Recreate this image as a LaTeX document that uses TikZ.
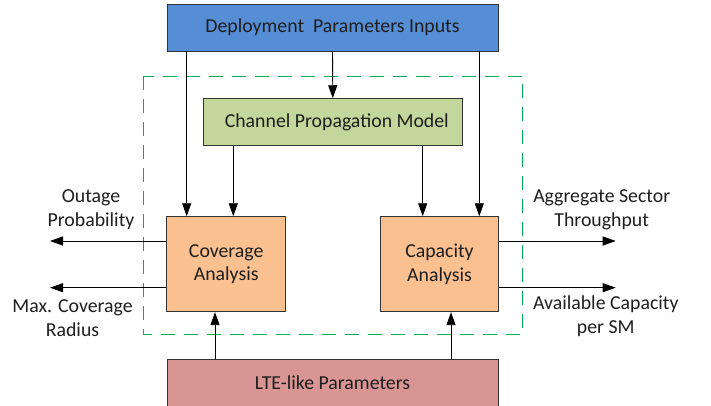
\documentclass[tikz,border=0pt]{standalone}
\usepackage{fontspec}
\setmainfont{Carlito}
\usetikzlibrary{arrows.meta,calc}
\definecolor{topblue}{RGB}{85,142,213}
\definecolor{chgreen}{RGB}{195,214,155}
\definecolor{anorange}{RGB}{250,192,144}
\definecolor{ltered}{RGB}{217,149,148}
\definecolor{dashgreen}{RGB}{0,176,80}
\definecolor{txt}{RGB}{30,30,30}
\tikzset{
  blk/.style={draw=black!80, line width=0.9pt, inner sep=0pt, align=center, text=txt, font=\fontsize{19.8}{23.5}\selectfont},
  arr/.style={line width=0.9pt, -{Triangle[length=13pt,width=9pt]}},
  lbl/.style={align=center, text=txt, font=\fontsize{19.8}{23.8}\selectfont, inner sep=0pt}
}
\begin{document}
\begin{tikzpicture}[x=1pt,y=-1pt]
\useasboundingbox (0,0) rectangle (711,405);
\draw[dashgreen, line width=0.9pt, dash pattern=on 14pt off 9pt] (143.3,76) rectangle (522.3,334.7);
\node[blk, fill=topblue, minimum width=331pt, minimum height=47pt] (top) at (332.5,27.5) {Deployment\ \ Parameters Inputs};
\node[blk, fill=chgreen, minimum width=259pt, minimum height=47pt] (ch) at (332.8,122.2) {\hspace{8pt}Channel Propagation Model};
\node[blk, fill=anorange, minimum width=119pt, minimum height=95pt] (cov) at (226.2,264.2) {Coverage\\Analysis};
\node[blk, fill=anorange, minimum width=117.6pt, minimum height=95pt] (cap) at (439.5,264.2) {Capacity\\Analysis};
\node[blk, fill=ltered, minimum width=331pt, minimum height=47pt] (lte) at (332.5,383) {LTE-like Parameters};
\coordinate (x1) at (186.7,0);
\coordinate (x2) at (233.3,0);
\coordinate (x3) at (422.7,0);
\coordinate (x4) at (479.3,0);
\coordinate (x5) at (215,0);
\coordinate (x6) at (451,0);
\coordinate (ya) at (0,241);
\coordinate (yb) at (0,287.7);
\coordinate (oL1) at (50,241);
\coordinate (oL2) at (50,287.7);
\coordinate (oR1) at (615.7,241);
\coordinate (oR2) at (615.7,287.7);
\draw[arr] (top.south -| x1) -- (cov.north -| x1);
\draw[arr] (top.south -| x4) -- (cap.north -| x4);
\draw[arr] (top.south) -- (ch.north);
\draw[arr] (ch.south -| x2) -- (cov.north -| x2);
\draw[arr] (ch.south -| x3) -- (cap.north -| x3);
\draw[arr] (lte.north -| x5) -- (cov.south -| x5);
\draw[arr] (lte.north -| x6) -- (cap.south -| x6);
\draw[arr] (cov.west |- ya) -- (oL1);
\draw[arr] (cov.west |- yb) -- (oL2);
\draw[arr] (cap.east |- ya) -- (oR1);
\draw[arr] (cap.east |- yb) -- (oR2);
\node[lbl] (l1) at (91,210) {Outage\\Probability};
\node[lbl] (l2) at (72.5,318.5) {Max. Coverage\\Radius};
\node[lbl] (l3) at (601.7,210) {Aggregate Sector\\Throughput};
\node[lbl] (l4) at (605.8,316.5) {Available Capacity\\per SM};
\end{tikzpicture}
\end{document}
